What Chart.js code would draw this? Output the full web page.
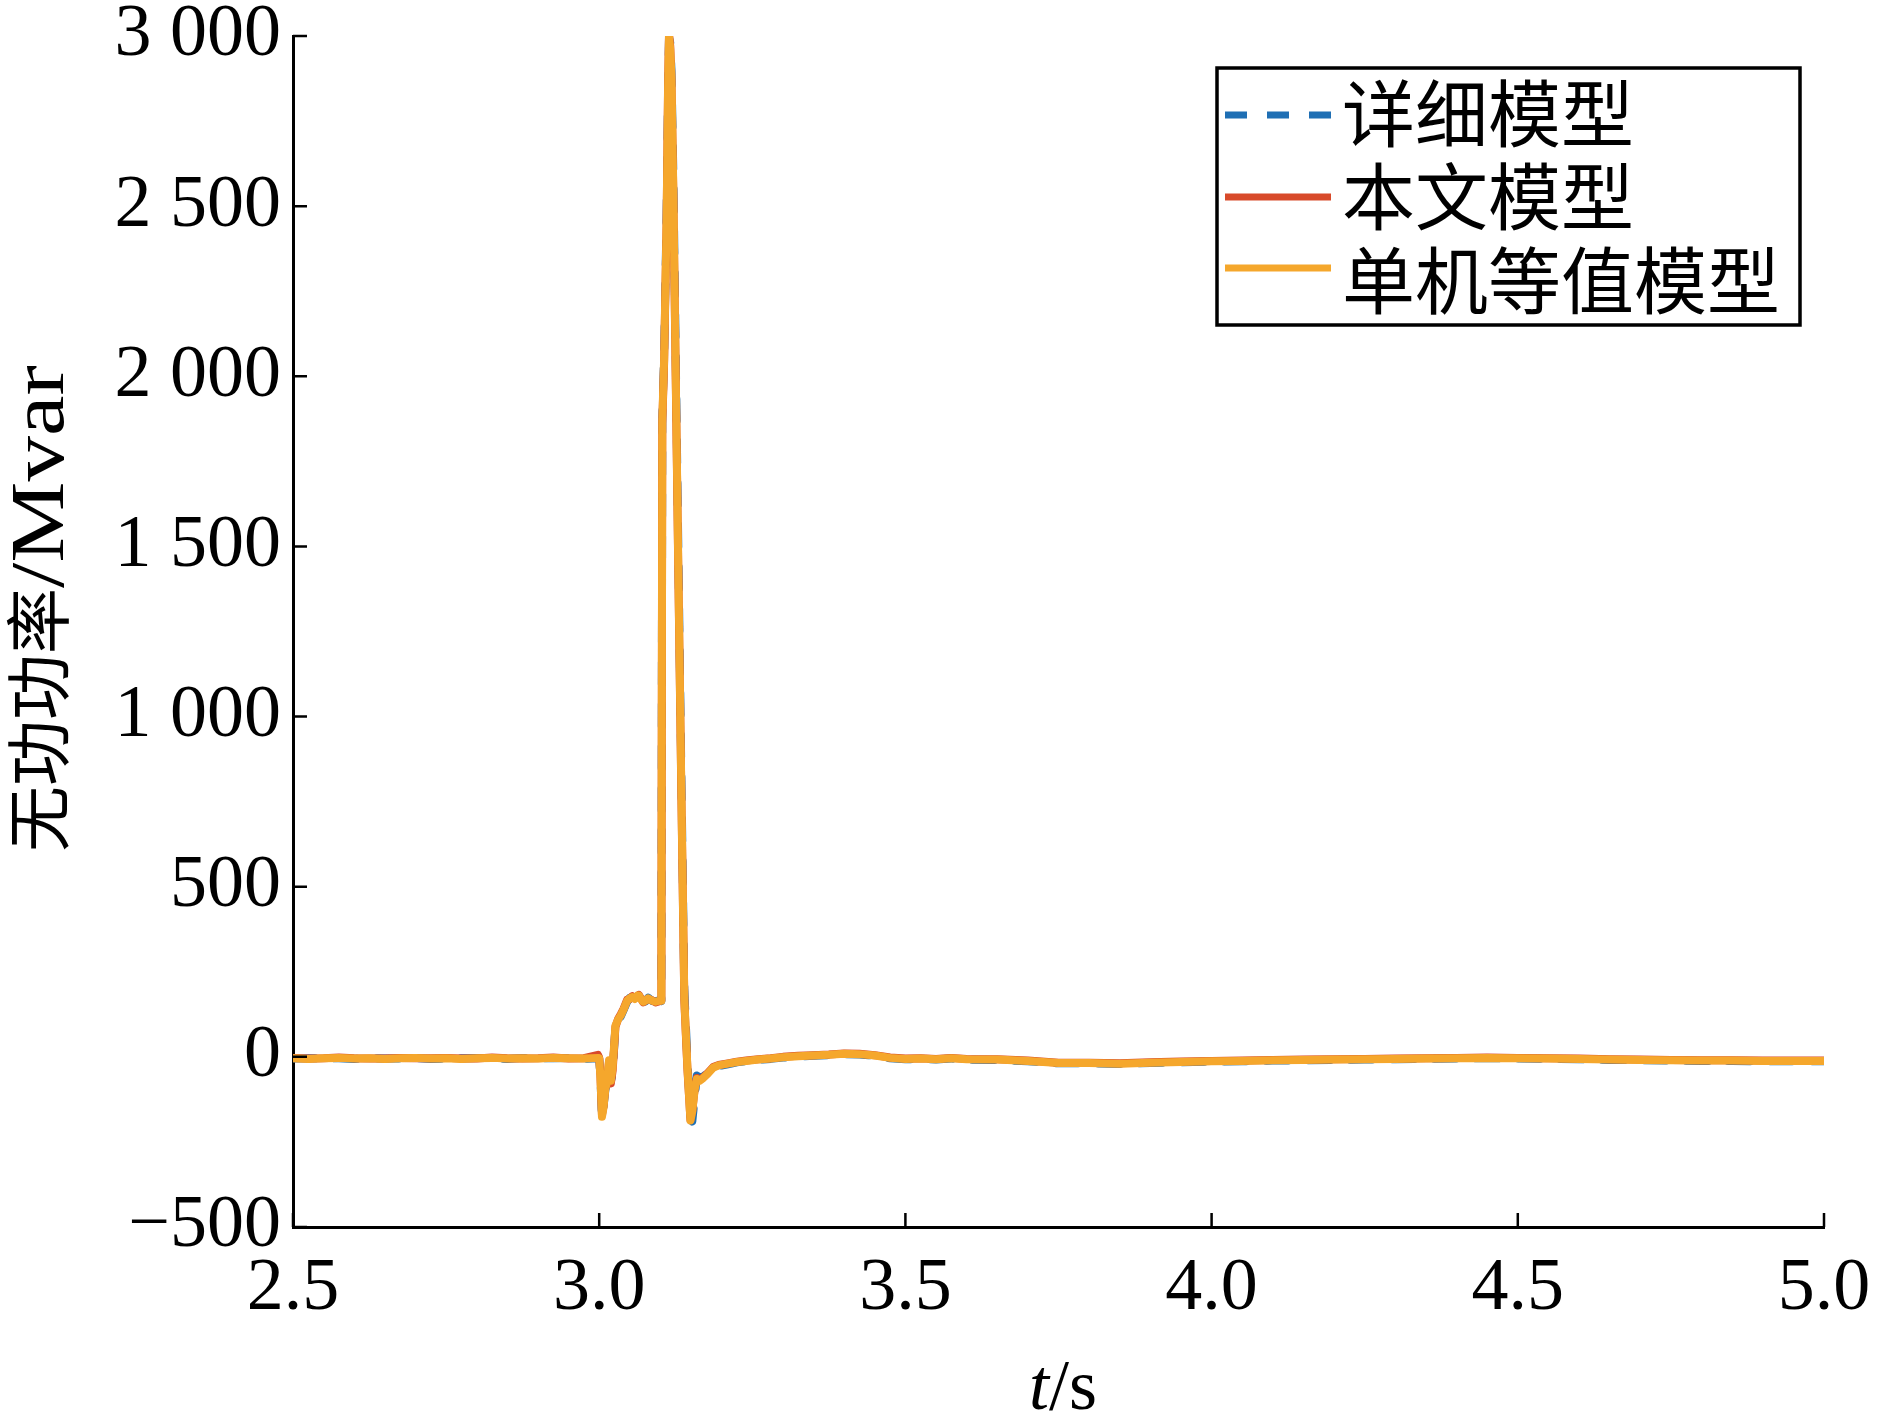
<!DOCTYPE html>
<html>
<head>
<meta charset="utf-8">
<title>无功功率</title>
<script src="https://cdn.jsdelivr.net/npm/chart.js@4.4.1/dist/chart.umd.min.js"></script>
<style>
  html, body { margin: 0; padding: 0; background: #fff; }
  #chart { display: block; }
</style>
</head>
<body>
<canvas id="chart" width="1886" height="1417"></canvas>
<script>
// Start Data
const seriesNames = ['详细模型', '本文模型', '单机等值模型'];
const xTickLabels = ['2.5', '3.0', '3.5', '4.0', '4.5', '5.0'];
const yTickLabels = ['\u2212500', '0', '500', '1 000', '1 500', '2 000', '2 500', '3 000'];

const time = [
  2.500, 2.525, 2.550, 2.575, 2.600, 2.625, 2.650, 2.675, 2.700, 2.725,
  2.750, 2.775, 2.800, 2.825, 2.850, 2.875, 2.900, 2.925, 2.950, 2.975,
  2.998, 3.000, 3.002, 3.0045, 3.007, 3.010, 3.0128, 3.016, 3.019, 3.022,
  3.0265, 3.031, 3.035, 3.040, 3.0457, 3.050, 3.054, 3.058, 3.0625, 3.0648,
  3.068, 3.072, 3.0757, 3.080, 3.0866, 3.092, 3.0975, 3.1015, 3.1030, 3.1060,
  3.1100, 3.1125, 3.1140, 3.1160, 3.1180, 3.1210, 3.1250, 3.1290, 3.1340, 3.1390,
  3.1440, 3.1490, 3.1520, 3.1560, 3.1595, 3.1640, 3.1700, 3.1770, 3.1860, 3.195,
  3.210, 3.225, 3.240, 3.260, 3.280, 3.300, 3.325, 3.350, 3.375, 3.400,
  3.425, 3.450, 3.475, 3.500, 3.525, 3.550, 3.575, 3.600, 3.650, 3.700,
  3.750, 3.800, 3.850, 3.900, 3.950, 4.000, 4.050, 4.100, 4.150, 4.200,
  4.250, 4.300, 4.350, 4.400, 4.450, 4.500, 4.550, 4.600, 4.650, 4.700,
  4.750, 4.800, 4.850, 4.900, 4.950, 5.000
];

const detailedModel = [
  -5, -4, -5, -4, -6, -3, -5, -5, -4, -6,
  -5, -4, -3, -4, -6, -3, -4, -4, -3, -6,
  -4, -5, -62, -180, -148, -98, -76, -22, -72, -50,
  90, 108, 118, 138, 162, 174, 175, 168, 179, 178,
  168, 164, 163, 174, 164, 163, 166, 164, 1880, 2060,
  2470, 2840, 2995, 2980, 2900, 2600, 2060, 1520, 850, 200,
  -10, -175, -190, -120, -55, -60, -58, -46, -34, -27,
  -22, -16, -13, -9, -6, -2, 1, 3, 5, 8,
  7, 3, -4, -7, -6, -8, -5, -8, -9, -13,
  -19, -19, -21, -18, -16, -14, -13, -11, -10, -9,
  -8, -7, -6, -5, -4, -5, -6, -7, -9, -10,
  -11, -12, -12, -13, -13, -13
];

const proposedModel = [
  -3, -5, -4, -2, -4, -5, -5, -3, -4, -4,
  -3, -5, -5, -2, -4, -5, -4, -2, -5, -4,
  6, -2, -55, -170, -145, -92, -70, -15, -78, -40,
  88, 112, 124, 142, 168, 170, 178, 172, 178, 182,
  172, 160, 167, 170, 166, 160, 163, 166, 1860, 2040,
  2440, 2860, 3005, 2970, 2870, 2540, 1990, 1450, 790, 165,
  -35, -185, -158, -92, -62, -68, -60, -48, -30, -24,
  -19, -14, -11, -7, -4, 0, 3, 5, 7, 10,
  9, 5, -2, -5, -4, -6, -3, -6, -7, -11,
  -17, -17, -19, -16, -14, -12, -11, -9, -8, -7,
  -6, -5, -4, -3, -2, -3, -4, -5, -7, -8,
  -9, -10, -10, -11, -11, -11
];

const singleMachine = [
  -4, -6, -4, -3, -5, -4, -6, -4, -3, -5,
  -4, -6, -4, -3, -5, -4, -5, -3, -4, -5,
  -3, -4, -60, -176, -150, -95, -74, -10, -70, -30,
  92, 110, 121, 140, 165, 172, 176, 170, 180, 180,
  170, 162, 165, 172, 165, 162, 165, 165, 1870, 2050,
  2450, 2850, 3000, 2960, 2880, 2550, 2000, 1460, 800, 170,
  -30, -187, -160, -95, -65, -70, -62, -50, -32, -25,
  -20, -15, -12, -8, -5, -1, 2, 4, 6, 9,
  8, 4, -3, -6, -5, -7, -4, -7, -8, -12,
  -18, -18, -20, -17, -15, -13, -12, -10, -9, -8,
  -7, -6, -5, -4, -3, -4, -5, -6, -8, -9,
  -10, -11, -11, -12, -12, -12
];
// End Data

function toPoints(values) {
  return time.map((t, i) => ({ x: t, y: values[i] }));
}

const serif = '"Liberation Serif", "Times New Roman", serif';
const cjk = '"Noto Sans CJK SC", sans-serif';

// Start Inward Ticks
const axisTicks = {
  id: 'axisTicks',
  afterDraw(chart) {
    const ctx = chart.ctx;
    const area = chart.chartArea;
    ctx.save();
    ctx.strokeStyle = '#000';
    ctx.lineWidth = 2.5;
    ctx.beginPath();
    chart.scales.x.ticks.forEach(t => {
      const px = chart.scales.x.getPixelForValue(t.value);
      ctx.moveTo(px, area.bottom);
      ctx.lineTo(px, area.bottom - 14);
    });
    chart.scales.y.ticks.forEach(t => {
      const py = chart.scales.y.getPixelForValue(t.value);
      ctx.moveTo(area.left, py);
      ctx.lineTo(area.left + 14, py);
    });
    ctx.stroke();
    ctx.restore();
  }
};
// End Inward Ticks

// Start Axis Titles
const axisTitles = {
  id: 'axisTitles',
  afterDraw(chart) {
    const ctx = chart.ctx;
    ctx.save();
    ctx.fillStyle = '#000';
    ctx.textBaseline = 'alphabetic';
    ctx.textAlign = 'left';

    // x title: t/s
    ctx.font = 'italic 72px ' + serif;
    const wt = ctx.measureText('t').width;
    ctx.font = '72px ' + serif;
    const ws = ctx.measureText('/s').width;
    let x0 = 1063 - (wt + ws) / 2;
    ctx.font = 'italic 72px ' + serif;
    ctx.fillText('t', x0, 1409);
    ctx.font = '72px ' + serif;
    ctx.fillText('/s', x0 + wt, 1409);

    // y title: rotated, reads bottom to top
    ctx.translate(63, 852);
    ctx.rotate(-Math.PI / 2);
    ctx.font = '66px ' + cjk;
    ctx.fillText('无功功率', 0, 0);
    const wc = ctx.measureText('无功功率').width;
    ctx.translate(wc, 0);
    ctx.scale(1.2, 1);
    ctx.font = '76px ' + serif;
    ctx.fillText('/Mvar', 0, 0);
    ctx.restore();
  }
};
// End Axis Titles

// Start Legend Box
const legendBox = {
  id: 'legendBox',
  afterDraw(chart) {
    const ctx = chart.ctx;
    const sampleY = [115, 197, 268];
    const textY = [113, 196, 280];
    const order = [2, 1, 0];
    ctx.save();
    ctx.fillStyle = '#fff';
    ctx.fillRect(1217, 68, 583, 257);
    ctx.strokeStyle = '#000';
    ctx.lineWidth = 3.5;
    ctx.strokeRect(1217, 68, 583, 257);
    seriesNames.forEach((name, i) => {
      const ds = chart.data.datasets[order[i]];
      ctx.beginPath();
      ctx.strokeStyle = ds.borderColor;
      ctx.lineWidth = 7;
      ctx.setLineDash(ds.borderDash || []);
      ctx.moveTo(1225, sampleY[i]);
      ctx.lineTo(1331, sampleY[i]);
      ctx.stroke();
      ctx.setLineDash([]);
      ctx.fillStyle = '#000';
      ctx.font = '73px ' + cjk;
      ctx.textBaseline = 'middle';
      ctx.fillText(name, 1342, textY[i]);
    });
    ctx.restore();
  }
};
// End Legend Box

const ctx = document.getElementById('chart');

new Chart(ctx, {
  type: 'line',
  data: {
    datasets: [
      {
        label: seriesNames[2],
        data: toPoints(singleMachine),
        borderColor: '#f5a72c',
        order: 0
      },
      {
        label: seriesNames[1],
        data: toPoints(proposedModel),
        borderColor: '#d84a2a',
        order: 1
      },
      {
        label: seriesNames[0],
        data: toPoints(detailedModel),
        borderColor: '#1f6fb4',
        borderDash: [22, 20],
        order: 2
      }
    ]
  },
  options: {
    responsive: false,
    animation: false,
    events: [],
    elements: {
      point: { radius: 0 },
      line: { tension: 0, borderWidth: 8, borderJoinStyle: 'round', borderCapStyle: 'round' }
    },
    layout: { padding: { left: 0, top: 36, right: 62, bottom: 0 } },
    plugins: { legend: { display: false }, tooltip: { enabled: false } },
    scales: {
      x: {
        type: 'linear',
        min: 2.5,
        max: 5,
        afterFit: s => {
          s.height = 190;
          s.paddingLeft = 0;
          s.paddingRight = 0;
        },
        border: { display: true, color: '#000', width: 3 },
        grid: { display: false, drawTicks: false },
        ticks: {
          stepSize: 0.5,
          padding: 26,
          color: '#000',
          maxRotation: 0,
          autoSkip: false,
          font: { family: serif, size: 74, lineHeight: 1 },
          callback: (v, i) => xTickLabels[i]
        }
      },
      y: {
        min: -500,
        max: 3000,
        afterFit: s => {
          s.width = 293;
          s.paddingTop = 0;
          s.paddingBottom = 0;
        },
        border: { display: true, color: '#000', width: 3 },
        grid: { display: false, drawTicks: false },
        ticks: {
          stepSize: 500,
          padding: 12,
          color: '#000',
          autoSkip: false,
          font: { family: serif, size: 74, lineHeight: 0.9 },
          callback: (v, i) => yTickLabels[i]
        }
      }
    }
  },
  plugins: [axisTicks, axisTitles, legendBox]
});
</script>
</body>
</html>
